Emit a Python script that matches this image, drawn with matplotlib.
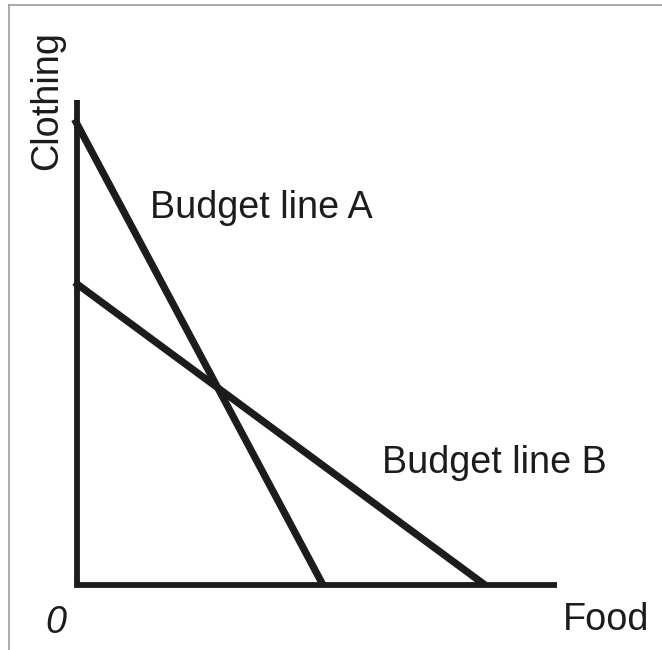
"""
Budget lines A and B: clothing vs food.
"""

import matplotlib.pyplot as plt
from matplotlib.lines import Line2D

# intercepts (units: clothing on y, food on x)
LINE_A = {"food": 4.92, "clothing": 9.22}
LINE_B = {"food": 8.16, "clothing": 6.02}
FOOD_MAX = 9.6
CLOTHING_MAX = 9.7

INK = "#1c1c1c"
FONT = ["Liberation Sans", "DejaVu Sans"]
FS = 27.2

# 1 unit = 50 px, origin at pixel (77, 585)
W, H = 662, 650
OX, OY, SCALE = 77, 585, 50.0


def main() -> None:
    fig = plt.figure(figsize=(W / 100, H / 100), dpi=100)
    ax = fig.add_axes([0, 0, 1, 1])
    ax.set_xlim(-OX / SCALE, (W - OX) / SCALE)
    ax.set_ylim(-(H - OY) / SCALE, OY / SCALE)
    ax.axis("off")

    # axes
    ax.plot([0, 0, FOOD_MAX], [CLOTHING_MAX, 0, 0], color=INK, lw=4.2,
            solid_joinstyle="miter", solid_capstyle="butt")

    # budget lines
    for line in (LINE_A, LINE_B):
        ax.plot([-0.05, line["food"]],
                [line["clothing"] + 0.05 * line["clothing"] / line["food"], 0],
                color=INK, lw=5.2, solid_capstyle="butt")

    kw = dict(color=INK, fontsize=FS, family=FONT)
    ax.text(1.46, 7.34, "Budget line A", ha="left", va="baseline", **kw)
    ax.text(6.1, 2.24, "Budget line B", ha="left", va="baseline", **kw)
    ax.text(9.72, -0.9, "Food", ha="left", va="baseline", **kw)
    ax.text(-0.64, -0.96, "0", ha="left", va="baseline", style="italic", **kw)
    ax.text(-0.59, 9.68, "Clothing", rotation=90, ha="center", va="center", **kw)

    # thin frame on top and left
    border = dict(color="#9a9a9a", lw=1.2, transform=None)
    fig.add_artist(Line2D([8.5, 8.5], [0, H - 5], **border))
    fig.add_artist(Line2D([8.5, W], [H - 5, H - 5], **border))

    fig.savefig("out.png", dpi=100)
    plt.close(fig)


if __name__ == "__main__":
    main()
